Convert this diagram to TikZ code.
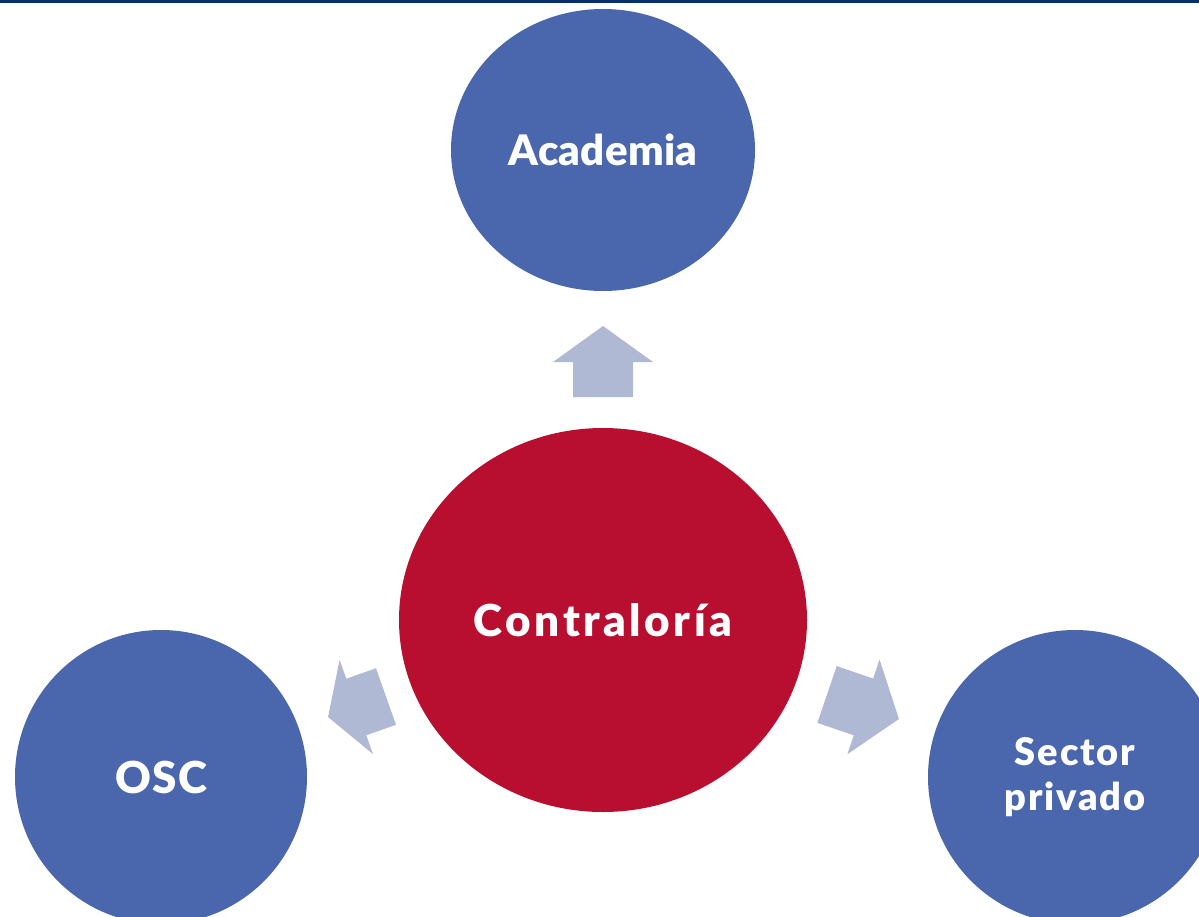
\documentclass[tikz,border=0pt]{standalone}
\usepackage{fontspec}
\setmainfont{Lato}[BoldFont={Lato Black}]
\usetikzlibrary{shapes.geometric}
\definecolor{circblue}{RGB}{74,103,173}
\definecolor{circred}{RGB}{184,14,48}
\definecolor{arrowc}{RGB}{176,185,211}
\definecolor{topline}{RGB}{4,46,108}
\newcommand{\bubblefont}[2]{\fontsize{#1}{45}\selectfont\bfseries\addfontfeature{LetterSpace=#2}}
\tikzset{
  bubble/.style={ellipse, draw=none, inner sep=0pt, text=white, align=center},
  blockarrow/.style={fill=arrowc, draw=none}
}
\newcommand{\blockarrowpath}[2]{% #1 total length, #2 head length
  (0,-30) -- ({#1-#2},-30) -- ({#1-#2},-50) -- (#1,0) -- ({#1-#2},50) -- ({#1-#2},30) -- (0,30) -- cycle}
\begin{document}
\begin{tikzpicture}[x=1pt,y=-1pt]
\useasboundingbox (0,0) rectangle (1199,917);
\clip (0,0) rectangle (1199,917);
\fill[topline] (0,0) rectangle (1199,3.5);
\node[bubble, fill=circblue, minimum width=304pt, minimum height=282pt, font=\bubblefont{42}{0.5}] (acad) at (603,150) {Academia};
\node[bubble, fill=circred, minimum width=408pt, minimum height=384pt, font=\bubblefont{44}{8}] (contra) at (603,620) {Contraloría};
\node[bubble, fill=circblue, minimum width=292pt, minimum height=294pt, font=\bubblefont{44}{3}] (osc) at (161,777) {OSC};
\node[bubble, fill=circblue, minimum width=294pt, minimum height=294pt, font=\bubblefont{38}{5}] (priv) at (1075,777) {Sector\\privado};
% block arrows from Contraloría towards the other bubbles
\fill[blockarrow, shift={(603,397)}, rotate=90] \blockarrowpath{71}{36};
\fill[blockarrow, shift={(386,696.5)}, rotate=199.5] \blockarrowpath{61.5}{30};
\fill[blockarrow, shift={(827,694.5)}, rotate=-18.8] \blockarrowpath{76}{37.5};
\end{tikzpicture}
\end{document}
